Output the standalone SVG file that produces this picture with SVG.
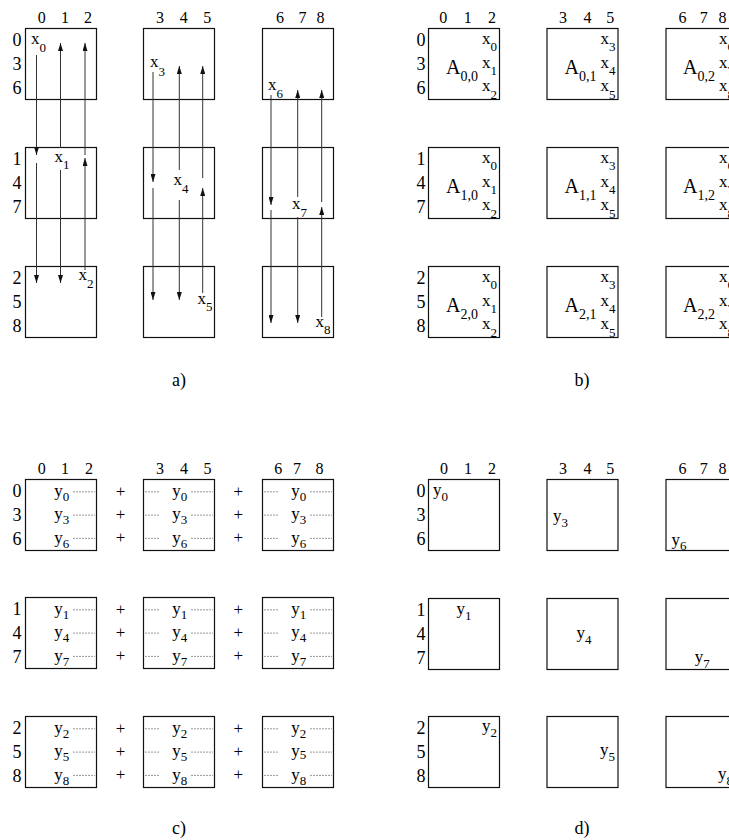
<svg xmlns="http://www.w3.org/2000/svg" width="729" height="840" viewBox="0 0 729 840" font-family="'Liberation Serif', 'Times New Roman', 'DejaVu Serif', serif">
<defs>
<style>
text{font-family:'Liberation Serif','Times New Roman','DejaVu Serif',serif;fill:#000}
.box{fill:none;stroke:#111;stroke-width:1.2}
.cl{font-size:16px;text-anchor:middle}
.rl{font-size:18px;text-anchor:end}
.v{font-size:17px}
.s{font-size:13px}
.A{font-size:20px}
.as{font-size:14px}
.pl{font-size:17px;text-anchor:middle}
.cap{font-size:18px;text-anchor:middle}
.dot{stroke:#333;stroke-width:1;stroke-dasharray:1 2;fill:none}
.arr{stroke:#333;stroke-width:1;fill:none;marker-end:url(#ah)}
</style>
<marker id="ah" viewBox="0 0 8 5" markerWidth="8" markerHeight="5" refX="8" refY="2.5" orient="auto" markerUnits="userSpaceOnUse"><path d="M0,0 L8,2.5 L0,5 z" fill="#111"/></marker>
</defs>
<rect width="729" height="840" fill="#fff"/>

<!-- Panel a -->
<g id="panel-a">
<g id="a-labels">
<text class="cl" x="41.7" y="23">0</text><text class="cl" x="65" y="23">1</text><text class="cl" x="88" y="23">2</text>
<text class="cl" x="160" y="23">3</text><text class="cl" x="183.7" y="23">4</text><text class="cl" x="207.3" y="23">5</text>
<text class="cl" x="280" y="23">6</text><text class="cl" x="302.5" y="23">7</text><text class="cl" x="320.5" y="23">8</text>
<text class="rl" x="21.5" y="45.5">0</text><text class="rl" x="21.5" y="69.5">3</text><text class="rl" x="21.5" y="93.5">6</text>
<text class="rl" x="21.5" y="164.5">1</text><text class="rl" x="21.5" y="188.5">4</text><text class="rl" x="21.5" y="212.5">7</text>
<text class="rl" x="21.5" y="283.5">2</text><text class="rl" x="21.5" y="307.5">5</text><text class="rl" x="21.5" y="331.5">8</text>
<text class="cap" x="179" y="386">a)</text>
</g>
<g id="a00"><rect class="box" x="25.5" y="28.5" width="71" height="71"/><text class="v" x="31" y="43.5">x<tspan class="s" x="39.5" y="51.5">0</tspan></text></g>
<g id="a01"><rect class="box" x="143.5" y="28.5" width="71" height="71"/><text class="v" x="150" y="66.5">x<tspan class="s" x="158.5" y="75.5">3</tspan></text></g>
<g id="a02"><rect class="box" x="262.5" y="28.5" width="71" height="71"/><text class="v" x="268" y="90">x<tspan class="s" x="276.5" y="97.5">6</tspan></text></g>
<g id="a10"><rect class="box" x="25.5" y="147.5" width="71" height="71"/><text class="v" x="54.5" y="161.5">x<tspan class="s" x="63" y="169">1</tspan></text></g>
<g id="a11"><rect class="box" x="143.5" y="147.5" width="71" height="71"/><text class="v" x="173.5" y="185">x<tspan class="s" x="182" y="192.5">4</tspan></text></g>
<g id="a12"><rect class="box" x="262.5" y="147.5" width="71" height="71"/><text class="v" x="292" y="209">x<tspan class="s" x="300.5" y="216.5">7</tspan></text></g>
<g id="a20"><rect class="box" x="25.5" y="266.5" width="71" height="71"/><text class="v" x="78.5" y="280">x<tspan class="s" x="87" y="288">2</tspan></text></g>
<g id="a21"><rect class="box" x="143.5" y="266.5" width="71" height="71"/><text class="v" x="197.5" y="303.5">x<tspan class="s" x="206" y="311">5</tspan></text></g>
<g id="a22"><rect class="box" x="262.5" y="266.5" width="71" height="71"/><text class="v" x="315.5" y="326.5">x<tspan class="s" x="324" y="334">8</tspan></text></g>
</g>

<g id="connectors">
<line class="arr" x1="36.5" y1="55" x2="36.5" y2="155"/>
<line class="arr" x1="36.5" y1="163" x2="36.5" y2="283"/>
<line class="arr" x1="60.5" y1="148" x2="60.5" y2="43"/>
<line class="arr" x1="60.5" y1="170" x2="60.5" y2="283"/>
<line class="arr" x1="85" y1="155" x2="85" y2="43"/>
<line class="arr" x1="85" y1="270" x2="85" y2="158"/>

<line class="arr" x1="153" y1="72" x2="153" y2="182"/>
<line class="arr" x1="153" y1="188" x2="153" y2="300"/>
<line class="arr" x1="179.3" y1="170" x2="179.3" y2="66"/>
<line class="arr" x1="179.3" y1="200" x2="179.3" y2="300"/>
<line class="arr" x1="202.7" y1="178" x2="202.7" y2="66"/>
<line class="arr" x1="202.7" y1="293" x2="202.7" y2="188"/>

<line class="arr" x1="271" y1="95" x2="271" y2="205"/>
<line class="arr" x1="271" y1="210" x2="271" y2="323"/>
<line class="arr" x1="297.7" y1="197" x2="297.7" y2="90"/>
<line class="arr" x1="297.7" y1="217" x2="297.7" y2="323"/>
<line class="arr" x1="321.7" y1="202" x2="321.7" y2="90"/>
<line class="arr" x1="321.7" y1="317" x2="321.7" y2="207"/>
</g>

<!-- Panel b -->
<g id="panel-b">
<g id="b-labels">
<text class="cl" x="443.3" y="23">0</text><text class="cl" x="467.8" y="23">1</text><text class="cl" x="492" y="23">2</text>
<text class="cl" x="563" y="23">3</text><text class="cl" x="587.5" y="23">4</text><text class="cl" x="610.3" y="23">5</text>
<text class="cl" x="682.5" y="23">6</text><text class="cl" x="703.7" y="23">7</text><text class="cl" x="722.5" y="23">8</text>
<text class="rl" x="425.5" y="45.5">0</text><text class="rl" x="425.5" y="69.5">3</text><text class="rl" x="425.5" y="93.5">6</text>
<text class="rl" x="425.5" y="164.5">1</text><text class="rl" x="425.5" y="188.5">4</text><text class="rl" x="425.5" y="212.5">7</text>
<text class="rl" x="425.5" y="283.5">2</text><text class="rl" x="425.5" y="307.5">5</text><text class="rl" x="425.5" y="331.5">8</text>
<text class="cap" x="582" y="386">b)</text>
</g>
<g id="b00"><rect class="box" x="428.5" y="28.5" width="71" height="71"/>
<text class="A" x="446" y="74">A<tspan class="as" x="460.5" y="81">0,0</tspan></text>
<text class="v" x="482" y="43.5">x<tspan class="s" x="490.5" y="51">0</tspan></text>
<text class="v" x="482" y="67.5">x<tspan class="s" x="490.5" y="75">1</tspan></text>
<text class="v" x="482" y="91">x<tspan class="s" x="490.5" y="98.5">2</tspan></text></g>
<g id="b01"><rect class="box" x="547" y="28.5" width="71" height="71"/>
<text class="A" x="564.5" y="74">A<tspan class="as" x="579" y="81">0,1</tspan></text>
<text class="v" x="600.5" y="43.5">x<tspan class="s" x="609" y="51">3</tspan></text>
<text class="v" x="600.5" y="67.5">x<tspan class="s" x="609" y="75">4</tspan></text>
<text class="v" x="600.5" y="91">x<tspan class="s" x="609" y="98.5">5</tspan></text></g>
<g id="b02"><rect class="box" x="666" y="28.5" width="71" height="71"/>
<text class="A" x="683" y="74">A<tspan class="as" x="697.5" y="81">0,2</tspan></text>
<text class="v" x="719" y="43.5">x<tspan class="s" x="727.5" y="51">6</tspan></text>
<text class="v" x="719" y="67.5">x<tspan class="s" x="727.5" y="75">7</tspan></text>
<text class="v" x="719" y="91">x<tspan class="s" x="727.5" y="98.5">8</tspan></text></g>

<g id="b10"><rect class="box" x="428.5" y="147.5" width="71" height="71"/>
<text class="A" x="446" y="193">A<tspan class="as" x="460.5" y="200">1,0</tspan></text>
<text class="v" x="482" y="162.5">x<tspan class="s" x="490.5" y="170">0</tspan></text>
<text class="v" x="482" y="186.5">x<tspan class="s" x="490.5" y="194">1</tspan></text>
<text class="v" x="482" y="210">x<tspan class="s" x="490.5" y="217.5">2</tspan></text></g>
<g id="b11"><rect class="box" x="547" y="147.5" width="71" height="71"/>
<text class="A" x="564.5" y="193">A<tspan class="as" x="579" y="200">1,1</tspan></text>
<text class="v" x="600.5" y="162.5">x<tspan class="s" x="609" y="170">3</tspan></text>
<text class="v" x="600.5" y="186.5">x<tspan class="s" x="609" y="194">4</tspan></text>
<text class="v" x="600.5" y="210">x<tspan class="s" x="609" y="217.5">5</tspan></text></g>
<g id="b12"><rect class="box" x="666" y="147.5" width="71" height="71"/>
<text class="A" x="683" y="193">A<tspan class="as" x="697.5" y="200">1,2</tspan></text>
<text class="v" x="719" y="162.5">x<tspan class="s" x="727.5" y="170">6</tspan></text>
<text class="v" x="719" y="186.5">x<tspan class="s" x="727.5" y="194">7</tspan></text>
<text class="v" x="719" y="210">x<tspan class="s" x="727.5" y="217.5">8</tspan></text></g>

<g id="b20"><rect class="box" x="428.5" y="266.5" width="71" height="71"/>
<text class="A" x="446" y="312">A<tspan class="as" x="460.5" y="319">2,0</tspan></text>
<text class="v" x="482" y="281.5">x<tspan class="s" x="490.5" y="289">0</tspan></text>
<text class="v" x="482" y="305.5">x<tspan class="s" x="490.5" y="313">1</tspan></text>
<text class="v" x="482" y="329">x<tspan class="s" x="490.5" y="336.5">2</tspan></text></g>
<g id="b21"><rect class="box" x="547" y="266.5" width="71" height="71"/>
<text class="A" x="564.5" y="312">A<tspan class="as" x="579" y="319">2,1</tspan></text>
<text class="v" x="600.5" y="281.5">x<tspan class="s" x="609" y="289">3</tspan></text>
<text class="v" x="600.5" y="305.5">x<tspan class="s" x="609" y="313">4</tspan></text>
<text class="v" x="600.5" y="329">x<tspan class="s" x="609" y="336.5">5</tspan></text></g>
<g id="b22"><rect class="box" x="666" y="266.5" width="71" height="71"/>
<text class="A" x="683" y="312">A<tspan class="as" x="697.5" y="319">2,2</tspan></text>
<text class="v" x="719" y="281.5">x<tspan class="s" x="727.5" y="289">6</tspan></text>
<text class="v" x="719" y="305.5">x<tspan class="s" x="727.5" y="313">7</tspan></text>
<text class="v" x="719" y="329">x<tspan class="s" x="727.5" y="336.5">8</tspan></text></g>
</g>

<!-- Panel c -->
<g id="panel-c">
<g id="c-labels">
<text class="cl" x="41.8" y="474">0</text><text class="cl" x="65" y="474">1</text><text class="cl" x="89" y="474">2</text>
<text class="cl" x="160" y="474">3</text><text class="cl" x="184" y="474">4</text><text class="cl" x="207.5" y="474">5</text>
<text class="cl" x="278.3" y="474">6</text><text class="cl" x="297" y="474">7</text><text class="cl" x="319.5" y="474">8</text>
<text class="rl" x="21.5" y="496.5">0</text><text class="rl" x="21.5" y="520.5">3</text><text class="rl" x="21.5" y="544.5">6</text>
<text class="rl" x="21.5" y="614.5">1</text><text class="rl" x="21.5" y="638.5">4</text><text class="rl" x="21.5" y="662.5">7</text>
<text class="rl" x="21.5" y="733.5">2</text><text class="rl" x="21.5" y="757.5">5</text><text class="rl" x="21.5" y="781.5">8</text>
<text class="cap" x="179" y="834">c)</text>
</g>
<g id="c-plus">
<text class="pl" x="120.5" y="496.5">+</text><text class="pl" x="120.5" y="519.8">+</text><text class="pl" x="120.5" y="543.1">+</text>
<text class="pl" x="238.3" y="496.5">+</text><text class="pl" x="238.3" y="519.8">+</text><text class="pl" x="238.3" y="543.1">+</text>
<text class="pl" x="120.5" y="614.5">+</text><text class="pl" x="120.5" y="637.8">+</text><text class="pl" x="120.5" y="661.1">+</text>
<text class="pl" x="238.3" y="614.5">+</text><text class="pl" x="238.3" y="637.8">+</text><text class="pl" x="238.3" y="661.1">+</text>
<text class="pl" x="120.5" y="733.5">+</text><text class="pl" x="120.5" y="756.8">+</text><text class="pl" x="120.5" y="780.1">+</text>
<text class="pl" x="238.3" y="733.5">+</text><text class="pl" x="238.3" y="756.8">+</text><text class="pl" x="238.3" y="780.1">+</text>
</g>
<g id="c00"><rect class="box" x="25.5" y="479.5" width="71" height="71"/>
<path class="dot" d="M73.5 491.8H95M73.5 515.1H95M73.5 538.4H95"/>
<text class="v" x="54.3" y="496">y<tspan class="s" x="62.8" y="501">0</tspan></text>
<text class="v" x="54.3" y="519.3">y<tspan class="s" x="62.8" y="524.3">3</tspan></text>
<text class="v" x="54.3" y="542.6">y<tspan class="s" x="62.8" y="547.6">6</tspan></text></g>
<g id="c01"><rect class="box" x="143.5" y="479.5" width="71" height="71"/>
<path class="dot" d="M145.5 491.8H160M145.5 515.1H160M145.5 538.4H160M191.5 491.8H213M191.5 515.1H213M191.5 538.4H213"/>
<text class="v" x="172.3" y="496">y<tspan class="s" x="180.8" y="501">0</tspan></text>
<text class="v" x="172.3" y="519.3">y<tspan class="s" x="180.8" y="524.3">3</tspan></text>
<text class="v" x="172.3" y="542.6">y<tspan class="s" x="180.8" y="547.6">6</tspan></text></g>
<g id="c02"><rect class="box" x="262.5" y="479.5" width="71" height="71"/>
<path class="dot" d="M264.5 491.8H279M264.5 515.1H279M264.5 538.4H279M310.5 491.8H332M310.5 515.1H332M310.5 538.4H332"/>
<text class="v" x="291.3" y="496">y<tspan class="s" x="299.8" y="501">0</tspan></text>
<text class="v" x="291.3" y="519.3">y<tspan class="s" x="299.8" y="524.3">3</tspan></text>
<text class="v" x="291.3" y="542.6">y<tspan class="s" x="299.8" y="547.6">6</tspan></text></g>
<g id="c10"><rect class="box" x="25.5" y="597.5" width="71" height="71"/>
<path class="dot" d="M73.5 609.8H95M73.5 633.1H95M73.5 656.4H95"/>
<text class="v" x="54.3" y="614">y<tspan class="s" x="62.8" y="619">1</tspan></text>
<text class="v" x="54.3" y="637.3">y<tspan class="s" x="62.8" y="642.3">4</tspan></text>
<text class="v" x="54.3" y="660.6">y<tspan class="s" x="62.8" y="665.6">7</tspan></text></g>
<g id="c11"><rect class="box" x="143.5" y="597.5" width="71" height="71"/>
<path class="dot" d="M145.5 609.8H160M145.5 633.1H160M145.5 656.4H160M191.5 609.8H213M191.5 633.1H213M191.5 656.4H213"/>
<text class="v" x="172.3" y="614">y<tspan class="s" x="180.8" y="619">1</tspan></text>
<text class="v" x="172.3" y="637.3">y<tspan class="s" x="180.8" y="642.3">4</tspan></text>
<text class="v" x="172.3" y="660.6">y<tspan class="s" x="180.8" y="665.6">7</tspan></text></g>
<g id="c12"><rect class="box" x="262.5" y="597.5" width="71" height="71"/>
<path class="dot" d="M264.5 609.8H279M264.5 633.1H279M264.5 656.4H279M310.5 609.8H332M310.5 633.1H332M310.5 656.4H332"/>
<text class="v" x="291.3" y="614">y<tspan class="s" x="299.8" y="619">1</tspan></text>
<text class="v" x="291.3" y="637.3">y<tspan class="s" x="299.8" y="642.3">4</tspan></text>
<text class="v" x="291.3" y="660.6">y<tspan class="s" x="299.8" y="665.6">7</tspan></text></g>
<g id="c20"><rect class="box" x="25.5" y="716.5" width="71" height="71"/>
<path class="dot" d="M73.5 728.8H95M73.5 752.1H95M73.5 775.4H95"/>
<text class="v" x="54.3" y="733">y<tspan class="s" x="62.8" y="738">2</tspan></text>
<text class="v" x="54.3" y="756.3">y<tspan class="s" x="62.8" y="761.3">5</tspan></text>
<text class="v" x="54.3" y="779.6">y<tspan class="s" x="62.8" y="784.6">8</tspan></text></g>
<g id="c21"><rect class="box" x="143.5" y="716.5" width="71" height="71"/>
<path class="dot" d="M145.5 728.8H160M145.5 752.1H160M145.5 775.4H160M191.5 728.8H213M191.5 752.1H213M191.5 775.4H213"/>
<text class="v" x="172.3" y="733">y<tspan class="s" x="180.8" y="738">2</tspan></text>
<text class="v" x="172.3" y="756.3">y<tspan class="s" x="180.8" y="761.3">5</tspan></text>
<text class="v" x="172.3" y="779.6">y<tspan class="s" x="180.8" y="784.6">8</tspan></text></g>
<g id="c22"><rect class="box" x="262.5" y="716.5" width="71" height="71"/>
<path class="dot" d="M264.5 728.8H279M264.5 752.1H279M264.5 775.4H279M310.5 728.8H332M310.5 752.1H332M310.5 775.4H332"/>
<text class="v" x="291.3" y="733">y<tspan class="s" x="299.8" y="738">2</tspan></text>
<text class="v" x="291.3" y="756.3">y<tspan class="s" x="299.8" y="758.8">5</tspan></text>
<text class="v" x="291.3" y="779.6">y<tspan class="s" x="299.8" y="784.6">8</tspan></text></g>
</g>

<!-- Panel d -->
<g id="panel-d">
<g id="d-labels">
<text class="cl" x="444" y="474">0</text><text class="cl" x="468" y="474">1</text><text class="cl" x="492" y="474">2</text>
<text class="cl" x="563" y="474">3</text><text class="cl" x="587.5" y="474">4</text><text class="cl" x="610.3" y="474">5</text>
<text class="cl" x="682.5" y="474">6</text><text class="cl" x="703.7" y="474">7</text><text class="cl" x="722.5" y="474">8</text>
<text class="rl" x="425.5" y="496.5">0</text><text class="rl" x="425.5" y="520.5">3</text><text class="rl" x="425.5" y="544.5">6</text>
<text class="rl" x="425.5" y="615.5">1</text><text class="rl" x="425.5" y="639.5">4</text><text class="rl" x="425.5" y="663.5">7</text>
<text class="rl" x="425.5" y="733.5">2</text><text class="rl" x="425.5" y="757.5">5</text><text class="rl" x="425.5" y="781.5">8</text>
<text class="cap" x="582" y="834">d)</text>
</g>
<g id="d00"><rect class="box" x="428.5" y="479.5" width="71" height="71"/><text class="v" x="433" y="495">y<tspan class="s" x="441.5" y="500.5">0</tspan></text></g>
<g id="d01"><rect class="box" x="547" y="479.5" width="71" height="71"/><text class="v" x="553" y="521">y<tspan class="s" x="561.5" y="526.5">3</tspan></text></g>
<g id="d02"><rect class="box" x="666" y="479.5" width="71" height="71"/><text class="v" x="671.5" y="544.5">y<tspan class="s" x="680" y="550">6</tspan></text></g>
<g id="d10"><rect class="box" x="428.5" y="598.5" width="71" height="71"/><text class="v" x="456.5" y="614">y<tspan class="s" x="465" y="619.5">1</tspan></text></g>
<g id="d11"><rect class="box" x="547" y="598.5" width="71" height="71"/><text class="v" x="576.5" y="638">y<tspan class="s" x="585" y="643.5">4</tspan></text></g>
<g id="d12"><rect class="box" x="666" y="598.5" width="71" height="71"/><text class="v" x="694.8" y="662">y<tspan class="s" x="703.3" y="667.5">7</tspan></text></g>
<g id="d20"><rect class="box" x="428.5" y="716.5" width="71" height="71"/><text class="v" x="482" y="731">y<tspan class="s" x="490.5" y="736.5">2</tspan></text></g>
<g id="d21"><rect class="box" x="547" y="716.5" width="71" height="71"/><text class="v" x="600" y="755">y<tspan class="s" x="608.5" y="760.5">5</tspan></text></g>
<g id="d22"><rect class="box" x="666" y="716.5" width="71" height="71"/><text class="v" x="718" y="779">y<tspan class="s" x="726.5" y="784.5">8</tspan></text></g>
</g>
</svg>
